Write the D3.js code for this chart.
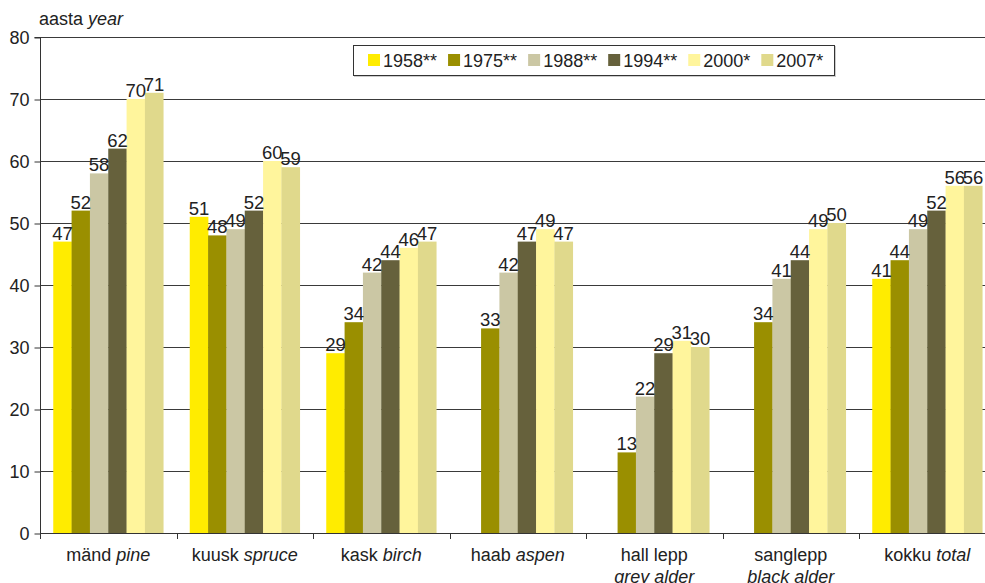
<!DOCTYPE html>
<html>
<head>
<meta charset="utf-8">
<script src="https://cdn.jsdelivr.net/npm/d3@7"></script>
<style>
  body { margin: 0; background: #fff; }
  svg { display: block; font-family: "Liberation Sans", Arial, sans-serif; }
</style>
</head>
<body>
<svg id="chart" width="985" height="583"></svg>
<script>
const categories = ['mänd|pine', 'kuusk|spruce', 'kask|birch', 'haab|aspen', 'hall lepp|grey alder', 'sanglepp|black alder', 'kokku|total'];
const years = ['1958**', '1975**', '1988**', '1994**', '2000*', '2007*'];
const colors = ['#ffec00', '#9a8f00', '#cbc7a4', '#66613c', '#fff59c', '#e0d98c'];
// one array per series, same order as categories (null = no bar)
const v1958 = [47, 51, 29, null, null, null, 41];
const v1975 = [52, 48, 34, 33, 13, 34, 44];
const v1988 = [58, 49, 42, 42, 22, 41, 49];
const v1994 = [62, 52, 44, 47, 29, 44, 52];
const v2000 = [70, 60, 46, 49, 31, 49, 56];
const v2007 = [71, 59, 47, 47, 30, 50, 56];
const yTicks = [0, 10, 20, 30, 40, 50, 60, 70, 80];

const series = [v1958, v1975, v1988, v1994, v2000, v2007];
const svg = d3.select('#chart');

const plotLeft = 40, plotRight = 995.5, plotTop = 37, plotBottom = 533;

const x = d3.scaleBand().domain(categories).range([plotLeft, plotRight]).paddingInner(0).paddingOuter(0);
const groupWidth = 110;
const xs = d3.scaleBand().domain(years).range([0, groupWidth]).padding(0);
const y = d3.scaleLinear().domain([0, 80]).range([plotBottom, plotTop]);

// gridlines
svg.append('g')
  .selectAll('line')
  .data(yTicks)
  .enter()
  .append('line')
  .attr('x1', plotLeft)
  .attr('x2', 985)
  .attr('y1', (d) => Math.round(y(d)) + 0.5)
  .attr('y2', (d) => Math.round(y(d)) + 0.5)
  .attr('stroke', '#3a3a3a')
  .attr('stroke-width', 1);

// bars
const offset = (x.bandwidth() - groupWidth) / 2;
const groups = svg.append('g')
  .selectAll('g')
  .data(categories)
  .enter()
  .append('g')
  .attr('transform', (d) => `translate(${x(d) + offset},0)`);

groups.each(function (cat, ci) {
  const g = d3.select(this);
  const vals = series.map((s, si) => ({ year: years[si], color: colors[si], value: s[ci] }))
    .filter((d) => d.value !== null);

  g.selectAll('rect')
    .data(vals)
    .enter()
    .append('rect')
    .attr('x', (d) => xs(d.year))
    .attr('width', xs.bandwidth() + 0.3)
    .attr('y', (d) => y(d.value))
    .attr('height', (d) => y(0) - y(d.value))
    .attr('fill', (d) => d.color);

  g.selectAll('text')
    .data(vals)
    .enter()
    .append('text')
    .attr('x', (d) => xs(d.year) + xs.bandwidth() / 2)
    .attr('y', (d) => y(d.value) - 2)
    .attr('text-anchor', 'middle')
    .attr('font-size', 18.5)
    .attr('fill', '#222')
    .text((d) => d.value);
});

// y axis
const yAxis = d3.axisLeft(y).tickValues(yTicks).tickSize(6).tickPadding(5);
const yg = svg.append('g').attr('transform', `translate(${plotLeft + 0.5},0.5)`).call(yAxis);
yg.select('.domain').attr('stroke', '#333').attr('d', `M-6,${plotTop}H0V${plotBottom}`);
yg.selectAll('.tick line').attr('stroke', '#333');
yg.selectAll('.tick text').attr('font-size', 18).attr('fill', '#222').attr('font-family', '"Liberation Sans", Arial, sans-serif');

// x axis
svg.append('line')
  .attr('x1', plotLeft).attr('x2', 985)
  .attr('y1', plotBottom + 0.5).attr('y2', plotBottom + 0.5)
  .attr('stroke', '#333');
svg.append('g')
  .selectAll('line')
  .data(categories)
  .enter()
  .append('line')
  .attr('x1', (d) => Math.round(x(d)) + 0.5)
  .attr('x2', (d) => Math.round(x(d)) + 0.5)
  .attr('y1', plotBottom)
  .attr('y2', plotBottom + 6)
  .attr('stroke', '#333');

// x labels
const labels = svg.append('g')
  .selectAll('text')
  .data(categories)
  .enter()
  .append('text')
  .attr('x', (d) => x(d) + x.bandwidth() / 2)
  .attr('text-anchor', 'middle')
  .attr('font-size', 18)
  .attr('fill', '#222');

labels.each(function (d) {
  const [et, en] = d.split('|');
  const t = d3.select(this);
  const cx = x(d) + x.bandwidth() / 2;
  if (en.indexOf('alder') > -1) {
    t.append('tspan').attr('x', cx).attr('y', 561).text(et);
    t.append('tspan').attr('x', cx).attr('y', 583).attr('font-style', 'italic').text(en);
  } else {
    t.attr('y', 561);
    t.append('tspan').text(et + ' ');
    t.append('tspan').attr('font-style', 'italic').text(en);
  }
});

// y title
const title = svg.append('text').attr('x', 39).attr('y', 25).attr('font-size', 18).attr('fill', '#222');
title.append('tspan').text('aasta ');
title.append('tspan').attr('font-style', 'italic').text('year');

// legend
const legend = svg.append('g');
legend.append('rect')
  .attr('x', 354).attr('y', 46).attr('width', 482).attr('height', 31)
  .attr('fill', '#ccc');
legend.append('rect')
  .attr('x', 353.5).attr('y', 45.5).attr('width', 481).attr('height', 30)
  .attr('fill', '#fff').attr('stroke', '#333');

let lx = 368;
years.forEach((yr, i) => {
  legend.append('rect')
    .attr('x', lx).attr('y', 54).attr('width', 12).attr('height', 12)
    .attr('fill', colors[i]);
  const t = legend.append('text')
    .attr('x', lx + 15).attr('y', 67)
    .attr('font-size', 18).attr('fill', '#222')
    .text(yr);
  lx += 15 + t.node().getComputedTextLength() + 11;
});
</script>
</body>
</html>
